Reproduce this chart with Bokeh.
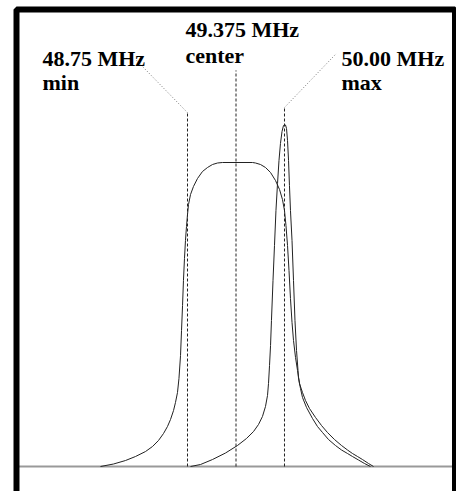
from bokeh.plotting import figure
from bokeh.models import Range1d, BoxAnnotation
from bokeh.core.properties import value
from bokeh.embed import file_html
from bokeh.resources import INLINE

# ---- data (frequency in MHz, relative amplitude) ----
marker_freqs = [48.75, 49.375, 50.00]
marker_tops = [1.164, 1.303, 1.181]
marker_names = ["min", "center", "max"]
marker_labels = ["48.75 MHz", "49.375 MHz", "50.00 MHz"]

# leader (dotted) line ends for min / max labels
leader_freqs = [48.093, 50.670]
leader_amps = [1.336, 1.359]

# label anchor positions (left edge, baseline)
label_x = [46.881, 48.724, 50.735]
label_y_value = [1.342, 1.4375, 1.342]
label_y_name = [1.263, 1.352, 1.263]

# wide (flat-top) response
wide_f = [47.629, 47.796, 47.951, 48.080, 48.209, 48.299, 48.376, 48.441,
          48.492, 48.531, 48.570, 48.595, 48.621, 48.640, 48.660, 48.673,
          48.686, 48.698, 48.711, 48.724, 48.737, 48.750, 48.763, 48.789,
          48.827, 48.879, 48.943, 49.008, 49.072, 49.137, 49.201, 49.588,
          49.626, 49.691, 49.755, 49.820, 49.884, 49.936, 49.974, 50.000,
          50.019, 50.039, 50.058, 50.077, 50.097, 50.116, 50.142, 50.168,
          50.193, 50.232, 50.271, 50.322, 50.400, 50.477, 50.554, 50.644,
          50.735, 50.812, 50.876, 50.941, 51.005, 51.083, 51.147]
wide_a = [0.0, 0.0082, 0.0197, 0.0329, 0.0493, 0.0658, 0.0855, 0.1086,
          0.1316, 0.1546, 0.1842, 0.2105, 0.2434, 0.2895, 0.3651, 0.4474,
          0.5296, 0.6118, 0.6842, 0.7434, 0.7895, 0.8289, 0.8618, 0.8947,
          0.9211, 0.9474, 0.9704, 0.9836, 0.9934, 0.9984, 1.0, 1.0,
          0.9984, 0.9934, 0.9836, 0.9671, 0.9408, 0.9112, 0.8783, 0.8421,
          0.7928, 0.7270, 0.6447, 0.5526, 0.4737, 0.4145, 0.3586, 0.3158,
          0.2730, 0.2434, 0.2171, 0.1908, 0.1612, 0.1349, 0.1118, 0.0888,
          0.0691, 0.0543, 0.0428, 0.0329, 0.0230, 0.0099, 0.0]

# narrow (peaked) response
narrow_f = [48.789, 48.918, 49.072, 49.240, 49.394, 49.510, 49.601, 49.665,
            49.716, 49.755, 49.781, 49.794, 49.807, 49.820, 49.832, 49.852,
            49.871, 49.890, 49.910, 49.929, 49.948, 49.968, 49.987, 50.000,
            50.013, 50.026, 50.039, 50.052, 50.064, 50.077, 50.097, 50.116,
            50.135, 50.155, 50.174, 50.180, 50.206, 50.232, 50.284, 50.361,
            50.425, 50.490, 50.567, 50.657, 50.735, 50.812, 50.876, 50.954,
            51.031, 51.108]
narrow_a = [0.0, 0.0066, 0.0230, 0.0444, 0.0691, 0.0921, 0.1151, 0.1382,
            0.1645, 0.1974, 0.2336, 0.2730, 0.3322, 0.3980, 0.4803, 0.6118,
            0.7270, 0.8421, 0.9309, 1.0066, 1.0625, 1.1020, 1.1217, 1.1250,
            1.1234, 1.1118, 1.0724, 1.0066, 0.9243, 0.8421, 0.7434, 0.6118,
            0.4803, 0.3816, 0.3158, 0.2928, 0.2566, 0.2270, 0.1941, 0.1579,
            0.1316, 0.1118, 0.0888, 0.0691, 0.0543, 0.0428, 0.0329, 0.0214,
            0.0099, 0.0]

# view / frame extents
X_START, X_END = 46.3402, 52.2165
Y_START, Y_END = -0.0822, 1.5329
BOX_LEFT, BOX_RIGHT, BOX_TOP, BOX_BOTTOM = 46.5464, 52.1972, 1.5033, -0.3

p = figure(width=456, height=491, output_backend="svg", toolbar_location=None,
           x_range=Range1d(X_START, X_END), y_range=Range1d(Y_START, Y_END),
           x_axis_type=None, y_axis_type=None, min_border=0)
p.grid.visible = False
p.outline_line_color = None
p.background_fill_color = "white"
p.border_fill_color = "white"

# baseline
p.segment(x0=[BOX_LEFT], x1=[BOX_RIGHT], y0=[0], y1=[0],
          line_color="#999999", line_width=2)

# curves
p.line(wide_f, wide_a, line_color="#222222", line_width=1)
p.line(narrow_f, narrow_a, line_color="#222222", line_width=1)

# vertical dashed marker lines
p.segment(x0=marker_freqs, x1=marker_freqs, y0=[0] * 3, y1=marker_tops,
          line_color="#222222", line_width=1, line_dash="3 2")

# dotted leader lines for min and max
p.segment(x0=[marker_freqs[0], marker_freqs[2]], y0=[marker_tops[0], marker_tops[2]],
          x1=leader_freqs, y1=leader_amps,
          line_color="#777777", line_width=1, line_dash="1 2")

# labels
font = value("Liberation Serif")
p.text(x=label_x, y=label_y_value, text=marker_labels, text_font=font,
       text_font_style="bold", text_font_size="22px", text_color="black",
       text_align="left", text_baseline="alphabetic")
p.text(x=label_x, y=label_y_name, text=marker_names, text_font=font,
       text_font_style="bold", text_font_size="22px", text_color="black",
       text_align="left", text_baseline="alphabetic")

# thick black frame
p.add_layout(BoxAnnotation(left=BOX_LEFT, right=BOX_RIGHT, top=BOX_TOP, bottom=BOX_BOTTOM,
                           fill_color=None, fill_alpha=0, line_color="black",
                           line_alpha=1.0, line_width=6))

open("out.html", "w").write(file_html(p, INLINE))
